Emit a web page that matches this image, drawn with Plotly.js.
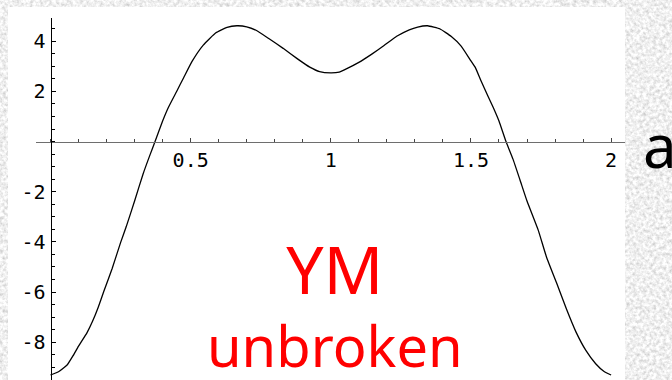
<!DOCTYPE html>
<html>
<head>
<meta charset="utf-8">
<script src="https://cdn.plot.ly/plotly-3.0.1.min.js"></script>
<style>
  html, body { margin: 0; padding: 0; }
  body {
    width: 672px; height: 380px; overflow: hidden; position: relative;
    background-color: #dcdcdc;
    background-image: url("data:image/svg+xml;utf8,<svg xmlns='http://www.w3.org/2000/svg' width='672' height='380'><filter id='n' x='0' y='0' width='100%25' height='100%25'><feTurbulence type='fractalNoise' baseFrequency='0.3' numOctaves='3' seed='7'/><feColorMatrix type='matrix' values='0.7 0 0 0 0.52  0.7 0 0 0 0.52  0.7 0 0 0 0.52  0 0 0 0 1'/></filter><rect width='672' height='380' filter='url(%23n)'/></svg>");
  }
  #panel { position: absolute; left: 8px; top: 7px; width: 617px; height: 373px; background: #ffffff; }
  #chart { position: absolute; left: 0; top: 0; width: 672px; height: 380px; }
</style>
</head>
<body>
<div id="panel"></div>
<div id="chart"></div>
<script>
// Potential V(a): double-well shape on 0 <= a <= 2
const aVals = [0, 0.03, 0.06, 0.08, 0.10, 0.13, 0.15, 0.17, 0.19, 0.22, 0.25, 0.27, 0.30, 0.33, 0.355, 0.373,
  0.40, 0.42, 0.45, 0.475, 0.505, 0.545, 0.59, 0.63, 0.665, 0.70, 0.735, 0.78, 0.83, 0.88, 0.925, 0.96,
  1.0, 1.03, 1.05, 1.10, 1.145, 1.19, 1.235, 1.28, 1.31, 1.345, 1.39, 1.43, 1.465, 1.50, 1.515, 1.535,
  1.56, 1.58, 1.60, 1.625, 1.65, 1.675, 1.70, 1.74, 1.77, 1.805, 1.84, 1.875, 1.91, 1.945, 1.975, 2.0];
const vVals = [-9.31, -9.17, -8.90, -8.55, -8.16, -7.63, -7.17, -6.62, -5.98, -5.06, -4.03, -3.40, -2.37, -1.30, -0.53, 0.0,
  0.82, 1.35, 2.00, 2.55, 3.20, 3.85, 4.34, 4.56, 4.62, 4.58, 4.43, 4.10, 3.72, 3.31, 2.97, 2.79,
  2.74, 2.77, 2.87, 3.16, 3.48, 3.83, 4.20, 4.46, 4.57, 4.62, 4.49, 4.19, 3.81, 3.22, 2.97, 2.45,
  1.83, 1.35, 0.82, 0.0, -0.70, -1.53, -2.37, -3.53, -4.62, -5.62, -6.66, -7.60, -8.33, -8.86, -9.17, -9.31];

const xTickVals = [0.5, 1, 1.5, 2];
const xTickText = ['0.5', '1', '1.5', '2'];
const yTickVals = [-8, -6, -4, -2, 2, 4];
const yTickText = ['-8', '-6', '-4', '-2', '2', '4'];

const tickFont = { family: 'DejaVu Sans Mono, monospace', size: 20, color: '#000000' };

const data = [{
  x: aVals, y: vVals, type: 'scatter', mode: 'lines',
  line: { color: '#000000', width: 1.3, shape: 'spline', smoothing: 0.4 },
  hoverinfo: 'skip', showlegend: false
}];

const layout = {
  width: 672, height: 380, autosize: false,
  margin: { l: 36, r: 47, t: 18, b: 0, pad: 0 },
  paper_bgcolor: 'rgba(0,0,0,0)', plot_bgcolor: 'rgba(0,0,0,0)',
  showlegend: false,
  xaxis: {
    range: [-0.05173, 2.04959], anchor: 'free', position: 0.6586,
    showgrid: false, zeroline: false,
    showline: true, linecolor: '#6e6e6e', linewidth: 1,
    tickmode: 'array', tickvals: xTickVals, ticktext: xTickText,
    ticks: 'inside', ticklen: 4, tickwidth: 1, tickcolor: '#444444',
    minor: { dtick: 0.1, tick0: 0, ticks: 'inside', ticklen: 3, tickwidth: 1, tickcolor: '#444444', showgrid: false },
    tickfont: tickFont, ticklabelstandoff: 0
  },
  yaxis: {
    range: [-9.509, 4.930], anchor: 'free', position: 0.02462,
    showgrid: false, zeroline: false,
    showline: true, linecolor: '#000000', linewidth: 1,
    tickmode: 'array', tickvals: yTickVals, ticktext: yTickText,
    ticks: 'inside', ticklen: 4, tickwidth: 1, tickcolor: '#000000',
    minor: { dtick: 0.5, tick0: 0, ticks: 'inside', ticklen: 3, tickwidth: 1, tickcolor: '#000000', showgrid: false },
    tickfont: tickFont, ticklabelstandoff: 1
  },
  annotations: [
    { text: '<span style="font-size:66px">YM</span><br>unbroken',
      xref: 'paper', yref: 'paper', x: (335 - 36) / 589, y: (380 - 303) / 362,
      xanchor: 'center', yanchor: 'middle', align: 'center', showarrow: false,
      font: { family: 'Noto Sans, sans-serif', size: 56, color: '#ff0000' } },
    { text: 'a', xref: 'paper', yref: 'paper', x: (641 - 36) / 589, y: (380 - 145) / 362,
      xanchor: 'left', yanchor: 'middle', showarrow: false,
      font: { family: 'Noto Sans, sans-serif', size: 60, color: '#000000' } }
  ]
};

Plotly.newPlot('chart', data, layout, { staticPlot: true, displayModeBar: false });
</script>
</body>
</html>
